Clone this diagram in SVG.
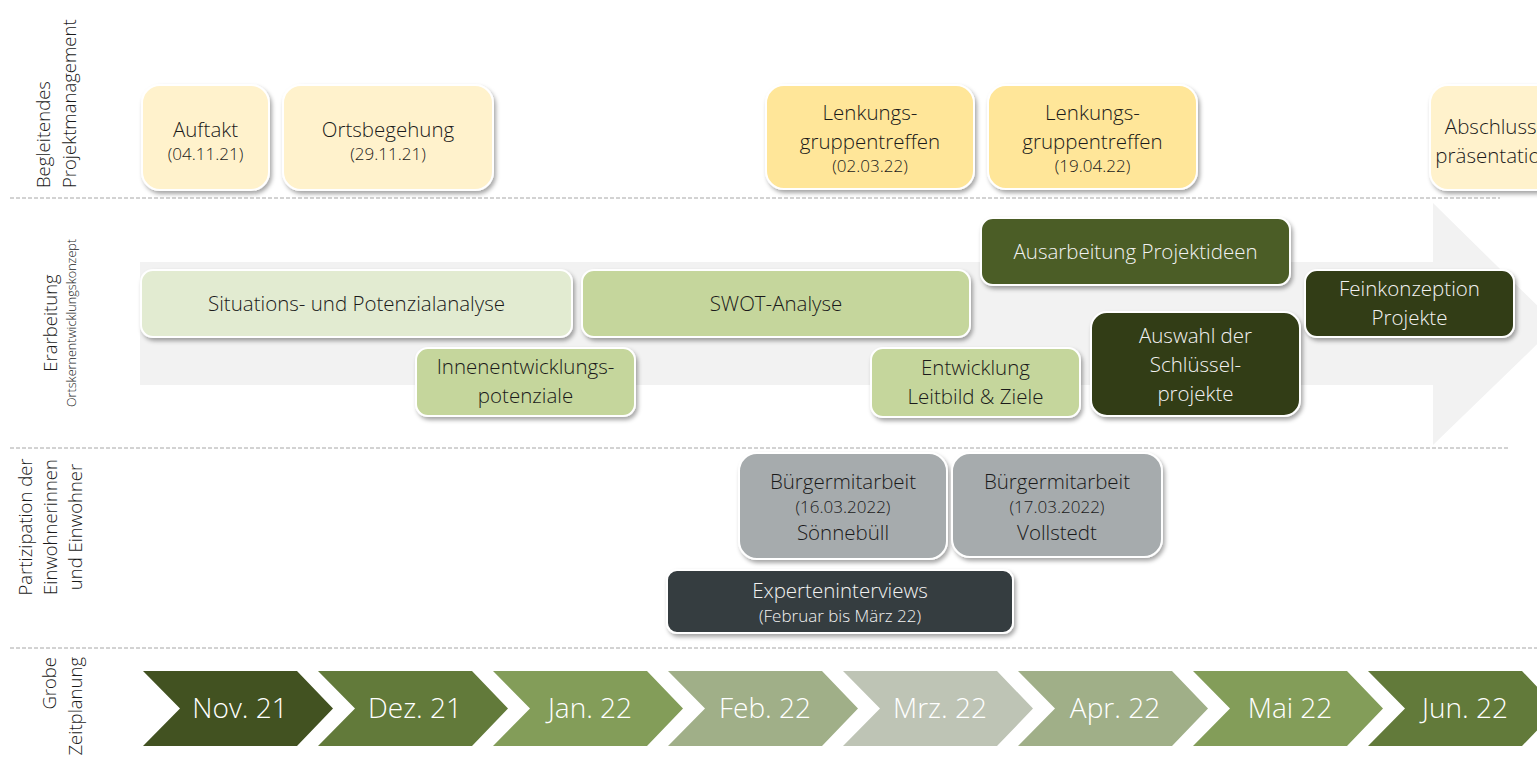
<svg xmlns="http://www.w3.org/2000/svg" width="1537" height="760" viewBox="0 0 1537 760">
  <defs>
    <filter id="shadow" x="-10%" y="-10%" width="120%" height="130%">
      <feDropShadow dx="2" dy="3" stdDeviation="2" flood-color="#000" flood-opacity="0.35"/>
    </filter>
    <style>
      text { font-family: "Open Sans", "DejaVu Sans", sans-serif; font-weight: 300; }
      .box { stroke: #ffffff; stroke-width: 2; filter: url(#shadow); }
      .lbl { font-size: 20.5px; fill: #1a1a1a; text-anchor: middle; }
      .lbl-w { font-size: 20.5px; fill: #f2f2f2; text-anchor: middle; }
      .date { font-size: 17px; fill: #1a1a1a; text-anchor: middle; }
      .date-w { font-size: 17px; fill: #f2f2f2; text-anchor: middle; }
      .side { font-size: 18.5px; fill: #1a1a1a; }
      .side-s { font-size: 12.6px; fill: #1a1a1a; }
      .divider { stroke: #a6a6a6; stroke-width: 1; stroke-dasharray: 4 2; fill: none; }
      .chev-txt { font-size: 28px; fill: #ffffff; text-anchor: middle; }
      .cream { fill: #fff2cc; }
      .gold { fill: #ffe699; }
      .pale { fill: #e2ebd1; }
      .mid { fill: #c5d69c; }
      .olive { fill: #4b5d28; }
      .deep { fill: #313c18; }
      .grey { fill: #a6abad; }
      .slate { fill: #353c3f; }
    </style>
  </defs>

  <rect width="1537" height="760" fill="#ffffff"/>

  <!-- row dividers -->
  <g id="dividers">
    <line class="divider" x1="10" y1="198" x2="1500" y2="198"/>
    <line class="divider" x1="10" y1="448" x2="1508" y2="448"/>
    <line class="divider" x1="10" y1="648" x2="1537" y2="648"/>
  </g>

  <!-- row headings (rotated) -->
  <g id="row-labels">
    <g transform="translate(50,188) rotate(-90)">
      <text class="side" x="0" y="0">Begleitendes</text>
      <text class="side" x="0" y="26">Projektmanagement</text>
    </g>
    <g transform="translate(57,323) rotate(-90)">
      <text class="side" x="0" y="0" text-anchor="middle">Erarbeitung</text>
      <text class="side-s" x="0" y="19" text-anchor="middle">Ortskernentwicklungskonzept</text>
    </g>
    <g transform="translate(32,527) rotate(-90)">
      <text class="side" x="0" y="0" text-anchor="middle">Partizipation der</text>
      <text class="side" x="0" y="25" text-anchor="middle">Einwohnerinnen</text>
      <text class="side" x="0" y="50" text-anchor="middle">und Einwohner</text>
    </g>
    <g transform="translate(56,657) rotate(-90)">
      <text class="side" x="0" y="0" text-anchor="end">Grobe</text>
      <text class="side" x="0" y="26" text-anchor="end">Zeitplanung</text>
    </g>
  </g>

  <!-- background process arrow -->
  <path id="process-arrow" d="M140,262 H1433 V203 L1557,325 L1433,445 V385 H140 Z" fill="#f2f2f2"/>

  <!-- Begleitendes Projektmanagement -->
  <g id="auftakt">
    <rect class="box cream" x="142" y="85" width="127" height="105" rx="18"/>
    <text class="lbl" x="205.5" y="137">Auftakt</text>
    <text class="date" x="205.5" y="160">(04.11.21)</text>
  </g>
  <g id="ortsbegehung">
    <rect class="box cream" x="283" y="85" width="210" height="105" rx="18"/>
    <text class="lbl" x="388" y="137">Ortsbegehung</text>
    <text class="date" x="388" y="160">(29.11.21)</text>
  </g>
  <g id="lenkung-1">
    <rect class="box gold" x="766" y="85" width="208" height="104" rx="18"/>
    <text class="lbl" x="870" y="120">Lenkungs-</text>
    <text class="lbl" x="870" y="149">gruppentreffen</text>
    <text class="date" x="870" y="172">(02.03.22)</text>
  </g>
  <g id="lenkung-2">
    <rect class="box gold" x="988" y="85" width="209" height="104" rx="18"/>
    <text class="lbl" x="1092.5" y="120">Lenkungs-</text>
    <text class="lbl" x="1092.5" y="149">gruppentreffen</text>
    <text class="date" x="1092.5" y="172">(19.04.22)</text>
  </g>
  <g id="abschluss">
    <rect class="box cream" x="1430" y="85" width="140" height="105" rx="18"/>
    <text class="lbl" x="1494" y="134">Abschluss-</text>
    <text class="lbl" x="1494" y="163">präsentation</text>
  </g>

  <!-- Erarbeitung Ortskernentwicklungskonzept -->
  <g id="situation">
    <rect class="box pale" x="141" y="270" width="431" height="67" rx="12"/>
    <text class="lbl" x="356.5" y="311">Situations- und Potenzialanalyse</text>
  </g>
  <g id="swot">
    <rect class="box mid" x="582" y="270" width="388" height="67" rx="12"/>
    <text class="lbl" x="776" y="311">SWOT-Analyse</text>
  </g>
  <g id="innen">
    <rect class="box mid" x="416" y="348" width="219" height="68" rx="12"/>
    <text class="lbl" x="525.5" y="374">Innenentwicklungs-</text>
    <text class="lbl" x="525.5" y="403">potenziale</text>
  </g>
  <g id="leitbild">
    <rect class="box mid" x="871" y="348" width="209" height="69" rx="12"/>
    <text class="lbl" x="975.5" y="375">Entwicklung</text>
    <text class="lbl" x="975.5" y="404">Leitbild &amp; Ziele</text>
  </g>
  <g id="projektideen">
    <rect class="box olive" x="981" y="218" width="309" height="67" rx="12"/>
    <text class="lbl-w" x="1135.5" y="259">Ausarbeitung Projektideen</text>
  </g>
  <g id="schluessel">
    <rect class="box deep" x="1091" y="312" width="209" height="104" rx="16"/>
    <text class="lbl-w" x="1195.5" y="343">Auswahl der</text>
    <text class="lbl-w" x="1195.5" y="372">Schlüssel-</text>
    <text class="lbl-w" x="1195.5" y="401">projekte</text>
  </g>
  <g id="feinkonzeption">
    <rect class="box deep" x="1305" y="270" width="209" height="67" rx="12"/>
    <text class="lbl-w" x="1409.5" y="296">Feinkonzeption</text>
    <text class="lbl-w" x="1409.5" y="325">Projekte</text>
  </g>

  <!-- Partizipation -->
  <g id="buerger-soennebuell">
    <rect class="box grey" x="739" y="453" width="208" height="106" rx="18"/>
    <text class="lbl" x="843" y="489">Bürgermitarbeit</text>
    <text class="date" x="843" y="513">(16.03.2022)</text>
    <text class="lbl" x="843" y="540">Sönnebüll</text>
  </g>
  <g id="buerger-vollstedt">
    <rect class="box grey" x="952" y="453" width="210" height="104" rx="18"/>
    <text class="lbl" x="1057" y="489">Bürgermitarbeit</text>
    <text class="date" x="1057" y="513">(17.03.2022)</text>
    <text class="lbl" x="1057" y="540">Vollstedt</text>
  </g>
  <g id="experten">
    <rect class="box slate" x="667" y="570" width="346" height="63" rx="10"/>
    <text class="lbl-w" x="840" y="598">Experteninterviews</text>
    <text class="date-w" x="840" y="622">(Februar bis März 22)</text>
  </g>

  <!-- Grobe Zeitplanung: month chevrons -->
  <g id="timeline">
    <g id="m-nov">
      <path d="M143,671 H297 L333,708.5 L297,746 H143 L180,708.5 Z" fill="#425221"/>
      <text class="chev-txt" x="240" y="718">Nov. 21</text>
    </g>
    <g id="m-dez">
      <path d="M318,671 H472 L508,708.5 L472,746 H318 L355,708.5 Z" fill="#627a3a"/>
      <text class="chev-txt" x="415" y="718">Dez. 21</text>
    </g>
    <g id="m-jan">
      <path d="M493,671 H647 L683,708.5 L647,746 H493 L530,708.5 Z" fill="#839d59"/>
      <text class="chev-txt" x="590" y="718">Jan. 22</text>
    </g>
    <g id="m-feb">
      <path d="M668,671 H822 L858,708.5 L822,746 H668 L705,708.5 Z" fill="#a0af88"/>
      <text class="chev-txt" x="765" y="718">Feb. 22</text>
    </g>
    <g id="m-mrz">
      <path d="M843,671 H997 L1033,708.5 L997,746 H843 L880,708.5 Z" fill="#bec4b5"/>
      <text class="chev-txt" x="940" y="718">Mrz. 22</text>
    </g>
    <g id="m-apr">
      <path d="M1018,671 H1172 L1208,708.5 L1172,746 H1018 L1055,708.5 Z" fill="#a0af88"/>
      <text class="chev-txt" x="1115" y="718">Apr. 22</text>
    </g>
    <g id="m-mai">
      <path d="M1193,671 H1347 L1383,708.5 L1347,746 H1193 L1230,708.5 Z" fill="#839d59"/>
      <text class="chev-txt" x="1290" y="718">Mai 22</text>
    </g>
    <g id="m-jun">
      <path d="M1368,671 H1522 L1558,708.5 L1522,746 H1368 L1405,708.5 Z" fill="#627a3a"/>
      <text class="chev-txt" x="1465" y="718">Jun. 22</text>
    </g>
  </g>
</svg>
